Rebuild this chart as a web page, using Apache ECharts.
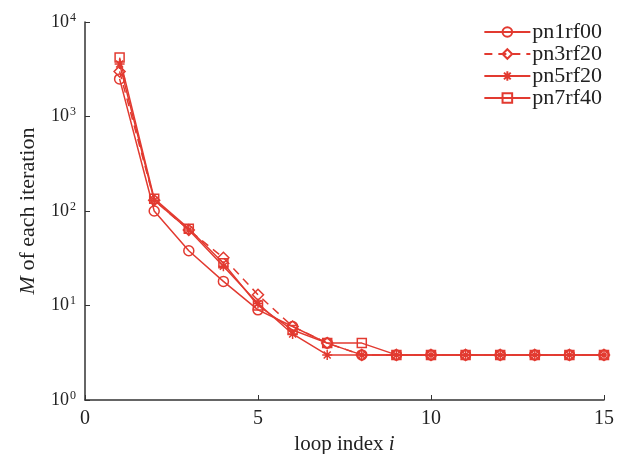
<!DOCTYPE html>
<html><head><meta charset="utf-8">
<script src="https://cdn.jsdelivr.net/npm/echarts@6/dist/echarts.min.js"></script>
<style>html,body{margin:0;padding:0;background:#fff}#c{width:623px;height:454px}</style>
</head><body><div id="c"></div>
<script>
var loopIndex = [1,2,3,4,5,6,7,8,9,10,11,12,13,14,15];
var pn1rf00 = [2500,100,38,18,9,6,4,3,3,3,3,3,3,3,3];
var pn3rf20 = [3000,130,63,32,13,6,4,3,3,3,3,3,3,3,3];
var pn5rf20 = [3600,130,63,26,10.5,5,3,3,3,3,3,3,3,3,3];
var pn7rf40 = [4200,135,65,28,10,5.5,4,4,3,3,3,3,3,3,3];
var seriesNames = ['pn1rf00','pn3rf20','pn5rf20','pn7rf40'];
var xTicks = [0,5,10,15];

var RED = '#e23a30';
var FONT = 'Liberation Serif';
function pairs(v){ return loopIndex.map(function(x,i){return [x,v[i]];}); }
var star = 'path://M0 5L10 5M5 0L5 10M1.5 1.5L8.5 8.5M8.5 1.5L1.5 8.5';
var defs = [
  {name:seriesNames[0], data:pn1rf00, symbol:'circle', size:10, type:'solid'},
  {name:seriesNames[1], data:pn3rf20, symbol:'diamond', size:11, type:[8,6]},
  {name:seriesNames[2], data:pn5rf20, symbol:star, size:10, type:'solid'},
  {name:seriesNames[3], data:pn7rf40, symbol:'rect', size:9, type:'solid'}
];
var chart = echarts.init(document.getElementById('c'));
chart.setOption({
  animation:false,
  backgroundColor:'#fff',
  textStyle:{fontFamily:FONT},
  grid:{left:85,right:19,top:22,bottom:54,outerBoundsMode:'none',containLabel:false},
  legend:{
    right:16, top:16, orient:'vertical', itemGap:0, itemWidth:46, itemHeight:12,
    textStyle:{fontFamily:FONT,fontSize:22,lineHeight:22,color:'#222',padding:[0,0,0,-3]},
    data:seriesNames
  },
  xAxis:{
    type:'value', min:0, max:15, interval:5,
    name:'{n|loop index }{i|i}', nameLocation:'middle', nameGap:31,
    nameTextStyle:{rich:{n:{fontFamily:FONT,fontSize:21,color:'#222'},i:{fontFamily:FONT,fontSize:21,fontStyle:'italic',color:'#222'}}},
    axisLine:{lineStyle:{color:'#333',width:1.5}},
    axisTick:{inside:true,length:5,lineStyle:{color:'#333'}},
    axisLabel:{fontFamily:FONT,fontSize:20,color:'#222',margin:9,
      formatter:function(v){return xTicks.indexOf(v)>=0?String(v):'';}},
    splitLine:{show:false}
  },
  yAxis:{
    type:'log', logBase:10, min:1, max:10000,
    name:'{i|M}{n| of each iteration}', nameLocation:'middle', nameGap:46, nameRotate:90,
    nameTextStyle:{rich:{n:{fontFamily:FONT,fontSize:22,color:'#222'},i:{fontFamily:FONT,fontSize:22,fontStyle:'italic',color:'#222'}}},
    axisLine:{show:true,lineStyle:{color:'#333',width:1.5}},
    axisTick:{show:true,inside:true,length:5,lineStyle:{color:'#333'}},
    minorTick:{show:false},
    axisLabel:{margin:9,
      formatter:function(v){return '{b|10}{s|'+Math.round(Math.log10(v))+'}';},
      rich:{b:{fontFamily:FONT,fontSize:18,color:'#222'},s:{fontFamily:FONT,fontSize:12,color:'#222',verticalAlign:'top',padding:[0,0,9,1]}}},
    splitLine:{show:false}
  },
  series: defs.map(function(d){
    return {
      name:d.name, type:'line', data:pairs(d.data),
      symbol:d.symbol, symbolSize:d.size, showSymbol:true,
      lineStyle:{color:RED,width:1.5,type:d.type},
      itemStyle:{color:d.symbol===star?RED:'rgba(255,255,255,0)',borderColor:RED,borderWidth:1.5},
      color:RED
    };
  })
});
</script></body></html>
